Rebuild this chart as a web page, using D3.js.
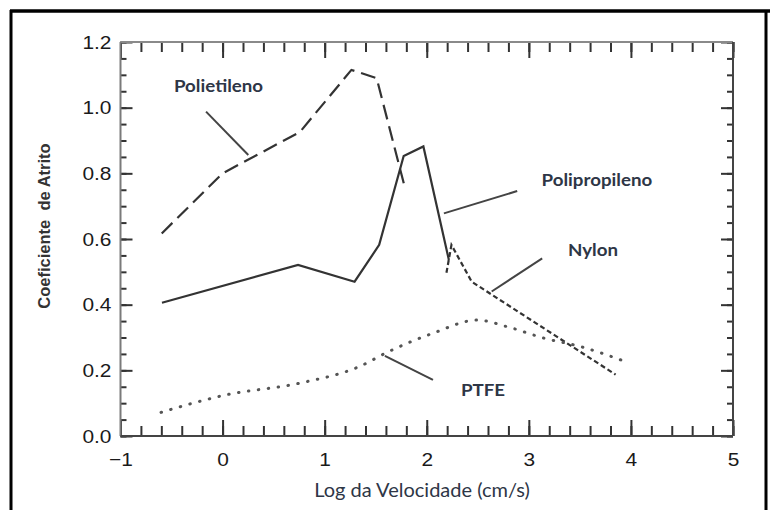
<!DOCTYPE html>
<html>
<head>
<meta charset="utf-8">
<script src="https://cdn.jsdelivr.net/npm/d3@7"></script>
<style>
  html, body { margin: 0; padding: 0; background: #fff; }
  svg { display: block; }
</style>
</head>
<body>
<svg id="chart" width="770" height="510"></svg>
<script>
// Friction coefficient vs. log of sliding velocity for four polymers
const xTicks = [-1, 0, 1, 2, 3, 4, 5];
const yTicks = [0.0, 0.2, 0.4, 0.6, 0.8, 1.0, 1.2];
const yTickLabels = ["0.0", "0.2", "0.4", "0.6", "0.8", "1.0", "1.2"];
const xTickLabels = ["\u22121", "0", "1", "2", "3", "4", "5"];

const polietilenoX = [-0.596, 0.0, 0.758, 1.262, 1.509, 1.787];
const polietilenoY = [0.617, 0.80, 0.926, 1.115, 1.09, 0.755];

const polipropilenoX = [-0.594, 0.739, 1.293, 1.534, 1.774, 1.967, 2.217];
const polipropilenoY = [0.406, 0.521, 0.47, 0.582, 0.853, 0.882, 0.536];

const nylonX = [2.193, 2.242, 2.44, 3.85];
const nylonY = [0.497, 0.582, 0.47, 0.187];

const ptfeX = [-0.603, 0.031, 0.756, 1.336, 1.626, 2.061, 2.496, 2.786, 3.148, 3.51, 3.908];
const ptfeY = [0.072, 0.125, 0.161, 0.211, 0.257, 0.313, 0.353, 0.333, 0.298, 0.272, 0.231];

// Callout labels: text, label anchor (data units), leader line ends (data units)
const labelNames = ["Polietileno", "Polipropileno", "Nylon", "PTFE"];
const labelX = [-0.476, 3.125, 3.383, 2.335];
const labelY = [1.066, 0.78, 0.567, 0.14];
const leaderX1 = [-0.162, 2.886, 3.131, 2.061];
const leaderY1 = [0.988, 0.746, 0.541, 0.171];
const leaderX2 = [0.252, 2.168, 2.636, 1.59];
const leaderY2 = [0.856, 0.678, 0.44, 0.244];

const svg = d3.select("#chart");

// outer page frame
svg.append("line").attr("x1", 10).attr("y1", 11).attr("x2", 770).attr("y2", 11)
  .attr("stroke", "#000").attr("stroke-width", 3.5);
svg.append("line").attr("x1", 11).attr("y1", 10).attr("x2", 11).attr("y2", 510)
  .attr("stroke", "#000").attr("stroke-width", 3);
svg.append("line").attr("x1", 766).attr("y1", 10).attr("x2", 766).attr("y2", 510)
  .attr("stroke", "#000").attr("stroke-width", 3);

const plotLeft = 120.5, plotRight = 733, plotTop = 42, plotBottom = 436;
const x = d3.scaleLinear().domain([-1, 5]).range([plotLeft, plotRight]);
const y = d3.scaleLinear().domain([0, 1.2]).range([plotBottom, plotTop]);

const g = svg.append("g");

// minor ticks
const xMinor = d3.range(-1, 5.0001, 0.2).map(v => +v.toFixed(2));
const yMinor = d3.range(0, 1.2001, 0.05).map(v => +v.toFixed(2));

function styleAxis(sel) {
  sel.select(".domain").remove();
  sel.selectAll(".tick line").attr("stroke", "#333").attr("stroke-width", 2);
}

g.append("g").attr("transform", `translate(0,${plotBottom})`)
  .call(d3.axisBottom(x).tickValues(xMinor).tickSize(-10).tickFormat(""))
  .call(styleAxis);
g.append("g").attr("transform", `translate(0,${plotTop})`)
  .call(d3.axisTop(x).tickValues(xMinor).tickSize(-10).tickFormat(""))
  .call(styleAxis);
g.append("g").attr("transform", `translate(${plotLeft},0)`)
  .call(d3.axisLeft(y).tickValues(yMinor).tickSize(-6).tickFormat(""))
  .call(styleAxis);
g.append("g").attr("transform", `translate(${plotRight},0)`)
  .call(d3.axisRight(y).tickValues(yMinor).tickSize(-6).tickFormat(""))
  .call(styleAxis);

// major ticks
const xAxisG = g.append("g").attr("transform", `translate(0,${plotBottom})`)
  .call(d3.axisBottom(x).tickValues(xTicks).tickSize(-16).tickPadding(22)
    .tickFormat((d, i) => xTickLabels[i]))
  .call(styleAxis);
g.append("g").attr("transform", `translate(0,${plotTop})`)
  .call(d3.axisTop(x).tickValues(xTicks).tickSize(-16).tickFormat(""))
  .call(styleAxis);
const yAxisG = g.append("g").attr("transform", `translate(${plotLeft},0)`)
  .call(d3.axisLeft(y).tickValues(yTicks).tickSize(-12).tickPadding(9)
    .tickFormat((d, i) => yTickLabels[i]))
  .call(styleAxis);
g.append("g").attr("transform", `translate(${plotRight},0)`)
  .call(d3.axisRight(y).tickValues(yTicks).tickSize(-12).tickFormat(""))
  .call(styleAxis);

// frame lines
g.append("line").attr("x1", plotLeft).attr("x2", plotRight).attr("y1", plotTop).attr("y2", plotTop)
  .attr("stroke", "#8a8a8a").attr("stroke-width", 2);
g.append("line").attr("x1", plotLeft).attr("x2", plotLeft).attr("y1", plotTop).attr("y2", plotBottom)
  .attr("stroke", "#7a7a7a").attr("stroke-width", 2);
g.append("line").attr("x1", plotLeft).attr("x2", plotRight).attr("y1", plotBottom).attr("y2", plotBottom)
  .attr("stroke", "#444").attr("stroke-width", 2);
g.append("line").attr("x1", plotRight).attr("x2", plotRight).attr("y1", plotTop).attr("y2", plotBottom)
  .attr("stroke", "#444").attr("stroke-width", 2);

// tick label styling (Helvetica-like, slightly wide)
[xAxisG, yAxisG].forEach(ax => {
  ax.selectAll(".tick text")
    .attr("font-family", "'Liberation Sans', Arial, sans-serif")
    .attr("font-size", 19)
    .attr("fill", "#1a1a1a")
    .each(function() {
      const w = this.getComputedTextLength();
      d3.select(this).attr("textLength", w * 1.1).attr("lengthAdjust", "spacingAndGlyphs");
    });
});
xAxisG.selectAll(".tick text").attr("dy", "0.71em").attr("y", 16.5);

// series
const line = d3.line().x(d => x(d[0])).y(d => y(d[1]));
const zip = (a, b) => a.map((v, i) => [v, b[i]]);

g.append("path").datum(zip(polietilenoX, polietilenoY))
  .attr("d", line).attr("fill", "none").attr("stroke", "#333")
  .attr("stroke-width", 2.2).attr("stroke-dasharray", "15,7");

g.append("path").datum(zip(polipropilenoX, polipropilenoY))
  .attr("d", line).attr("fill", "none").attr("stroke", "#333")
  .attr("stroke-width", 2.2).attr("stroke-linejoin", "miter");

g.append("path").datum(zip(nylonX, nylonY))
  .attr("d", line).attr("fill", "none").attr("stroke", "#333")
  .attr("stroke-width", 2.2).attr("stroke-dasharray", "5,3");

g.append("path").datum(zip(ptfeX, ptfeY))
  .attr("d", d3.line().curve(d3.curveMonotoneX).x(d => x(d[0])).y(d => y(d[1])))
  .attr("fill", "none").attr("stroke", "#555")
  .attr("stroke-width", 3).attr("stroke-linecap", "round")
  .attr("stroke-dasharray", "0.5,9.5");

// callouts
labelNames.forEach((name, i) => {
  g.append("line")
    .attr("x1", x(leaderX1[i])).attr("y1", y(leaderY1[i]))
    .attr("x2", x(leaderX2[i])).attr("y2", y(leaderY2[i]))
    .attr("stroke", "#444").attr("stroke-width", 2);
  const t = g.append("text")
    .attr("x", x(labelX[i])).attr("y", y(labelY[i]))
    .attr("dy", "0.35em")
    .attr("font-family", "Lato, 'Open Sans', sans-serif")
    .attr("font-weight", 700)
    .attr("font-size", 17)
    .attr("fill", "#2e3646")
    .text(name);
  const w = t.node().getComputedTextLength();
  t.attr("textLength", w * 1.1).attr("lengthAdjust", "spacingAndGlyphs");
});

// axis titles
svg.append("text")
  .attr("x", 422).attr("y", 497)
  .attr("text-anchor", "middle")
  .attr("font-family", "Lato, 'Open Sans', sans-serif")
  .attr("font-size", 20)
  .attr("fill", "#2e3646")
  .text("Log da Velocidade (cm/s)");

svg.append("text")
  .attr("transform", "translate(50,226) rotate(-90)")
  .attr("text-anchor", "middle")
  .attr("font-family", "'Liberation Sans', Arial, sans-serif")
  .attr("font-weight", 700)
  .attr("font-size", 16.5)
  .attr("fill", "#333")
  .attr("xml:space", "preserve")
  .text("Coeficiente  de Atrito");
</script>
</body>
</html>
